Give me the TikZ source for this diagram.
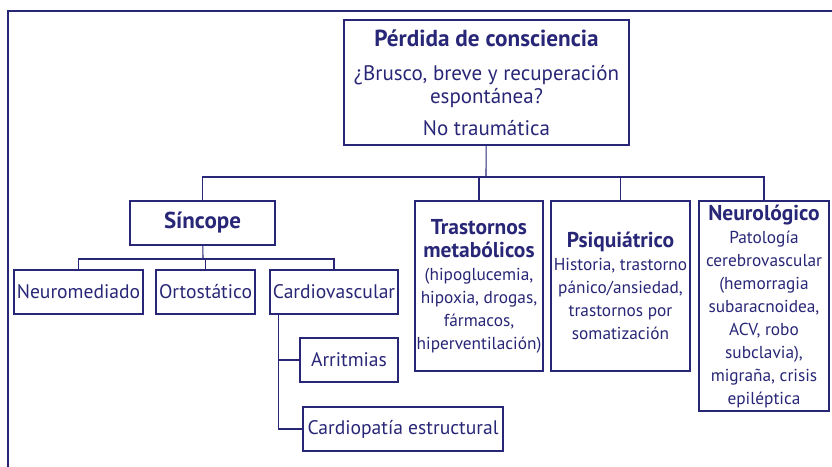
\documentclass[tikz,border=0pt]{standalone}
\usepackage{fontspec}
\setmainfont{PT Sans}
\usepackage{xcolor}
\usepackage{tikz}
\usetikzlibrary{positioning}
\definecolor{navy}{RGB}{40,38,118}
\newcommand{\hd}[1]{{\fontsize{21.5}{23}\selectfont\bfseries #1}}

\begin{document}
\begin{tikzpicture}[x=1pt, y=-1pt, line width=1.1pt, draw=navy, every node/.style={draw=navy, text=navy, align=center, inner sep=0pt, font=\fontsize{19.6}{23}\selectfont}, box/.style={minimum height=44pt}, side/.style={font=\fontsize{17.3}{23}\selectfont}]
\useasboundingbox (0,0) rectangle (832,466);
\draw[line width=2.4pt] (8,470) -- (8,11) -- (836,11);
\node (top) [minimum width=285pt, minimum height=125pt, font=\fontsize{21}{23}\selectfont] at (486.5,82.5) {{\fontsize{23.2}{23}\selectfont\bfseries Pérdida de consciencia}\\[11pt] ¿Brusco, breve y recuperación\\ espontánea?\\[9pt] No traumática};
\node (sincope) [box, minimum width=145pt] at (202.5,223) {{\fontsize{23}{23}\selectfont\bfseries Síncope}};
\node (neuromed) [box, minimum width=129pt] at (78.5,292) {Neuromediado};
\node (orto) [box, minimum width=99pt] at (205.5,292) {Ortostático};
\node (cardio) [box, minimum width=128pt] at (334,292) {Cardiovascular};
\node (arrit) [box, minimum width=98pt] at (349,360) {Arritmias};
\node (estruct) [box, minimum width=200pt] at (403,429) {Cardiopatía estructural};
\node (metab) [side, minimum width=128pt, minimum height=170pt] at (479,286) {\hd{Trastornos}\\ \hd{metabólicos}\\ (hipoglucemia,\\ hipoxia, drogas,\\ fármacos,\\ hiperventilación)};
\node (psiq) [side, minimum width=139pt, minimum height=170pt] at (620.5,286) {\hd{Psiquiátrico}\\ Historia, trastorno\\ pánico/ansiedad,\\ trastornos por\\ somatización};
\node (neurol) [side, minimum width=130pt, minimum height=210pt] at (764,306) {\hd{Neurológico}\\ Patología\\ cerebrovascular\\ (hemorragia\\ subaracnoidea,\\ ACV, robo\\ subclavia),\\ migraña, crisis\\ epiléptica};
\coordinate (bus) at (486,177);
\coordinate (sbus) at (203,259);
\draw (top) -- (bus);
\foreach \n in {sincope,metab,psiq,neurol} \draw (bus) -| (\n.north);
\draw (sincope) -- (sbus);
\foreach \n in {neuromed,orto,cardio} \draw (sbus) -| (\n.north);
\draw ([xshift=9pt]cardio.south west) |- (arrit.west);
\draw ([xshift=9pt]cardio.south west) |- (estruct.west);
\end{tikzpicture}
\end{document}
